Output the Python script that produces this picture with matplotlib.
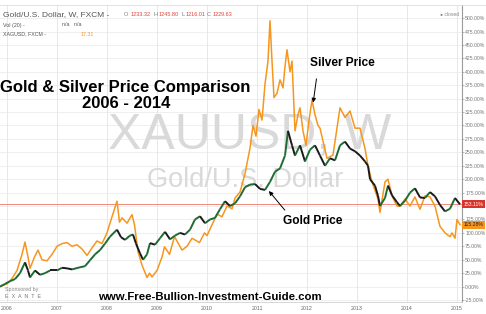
import numpy as np
import matplotlib
matplotlib.use("Agg")
import matplotlib.pyplot as plt
from matplotlib.collections import LineCollection

# ---------------- data (percent change since start) ----------------
gold_t = [2005.86, 2005.96, 2006.06, 2006.16, 2006.26, 2006.36, 2006.42, 2006.46, 2006.56, 2006.66,
          2006.76, 2006.86, 2007.0, 2007.1, 2007.2, 2007.3, 2007.46, 2007.56, 2007.66, 2007.76,
          2007.86, 2007.96, 2008.06, 2008.2, 2008.28, 2008.36, 2008.46, 2008.52, 2008.58, 2008.66,
          2008.72, 2008.8, 2008.86, 2008.96, 2009.06, 2009.16, 2009.26, 2009.36, 2009.46, 2009.56,
          2009.66, 2009.76, 2009.86, 2009.96, 2010.06, 2010.16, 2010.26, 2010.36, 2010.46, 2010.56,
          2010.66, 2010.76, 2010.86, 2010.96, 2011.06, 2011.16, 2011.26, 2011.36, 2011.46, 2011.56,
          2011.62, 2011.7, 2011.76, 2011.86, 2011.96, 2012.06, 2012.16, 2012.26, 2012.36, 2012.46,
          2012.56, 2012.66, 2012.76, 2012.86, 2012.96, 2013.06, 2013.16, 2013.22, 2013.26, 2013.36,
          2013.42, 2013.46, 2013.56, 2013.62, 2013.7, 2013.8, 2013.86, 2013.96, 2014.06, 2014.16,
          2014.26, 2014.36, 2014.46, 2014.56, 2014.66, 2014.76, 2014.86, 2014.96, 2015.06]
gold_v = [0, 5, 10, 14, 25, 45, 30, 17, 30, 22,
          25, 30, 30, 35, 34, 32, 36, 38, 49, 60,
          68, 80, 93, 106, 92, 87, 95, 97, 80, 62,
          50, 60, 81, 78, 90, 102, 88, 95, 100, 97,
          106, 125, 131, 118, 125, 128, 144, 159, 150, 155,
          168, 185, 190, 191, 182, 180, 195, 214, 220, 244,
          290, 263, 244, 263, 233, 255, 263, 244, 225, 239,
          235, 263, 270, 257, 252, 244, 233, 225, 200, 188,
          169, 150, 165, 188, 170, 157, 150, 160, 175, 183,
          166, 165, 176, 168, 152, 140, 145, 165, 153.11]

silver_t = [2005.86, 2006.0, 2006.1, 2006.2, 2006.3, 2006.36, 2006.42, 2006.46, 2006.55, 2006.62,
            2006.7, 2006.8, 2006.9, 2007.0, 2007.1, 2007.2, 2007.3, 2007.4, 2007.5, 2007.6,
            2007.7, 2007.8, 2007.9, 2008.0, 2008.1, 2008.2, 2008.25, 2008.3, 2008.4, 2008.5,
            2008.55, 2008.62, 2008.7, 2008.8, 2008.85, 2008.9, 2009.0, 2009.1, 2009.15, 2009.25,
            2009.35, 2009.5, 2009.6, 2009.7, 2009.85, 2009.95, 2010.0, 2010.1, 2010.2, 2010.3,
            2010.4, 2010.5, 2010.56, 2010.66, 2010.76, 2010.86, 2010.92, 2010.98, 2011.04, 2011.1,
            2011.16, 2011.22, 2011.26, 2011.3, 2011.34, 2011.4, 2011.46, 2011.52, 2011.56, 2011.6,
            2011.66, 2011.7, 2011.76, 2011.82, 2011.86, 2011.92, 2011.98, 2012.04, 2012.1, 2012.16,
            2012.22, 2012.26, 2012.4, 2012.52, 2012.66, 2012.76, 2012.86, 2012.96, 2013.06, 2013.16,
            2013.22, 2013.3, 2013.42, 2013.46, 2013.56, 2013.62, 2013.7, 2013.8, 2013.86, 2013.96,
            2014.06, 2014.16, 2014.26, 2014.36, 2014.46, 2014.56, 2014.66, 2014.76, 2014.86, 2014.9,
            2014.96, 2015.0, 2015.06]
silver_v = [0, 5, 15, 30, 60, 83, 55, 34, 55, 68,
            50, 48, 60, 75, 80, 82, 75, 78, 70, 58,
            72, 85, 80, 100, 130, 159, 120, 128, 118, 134,
            115, 65, 40, 17, 25, 18, 30, 55, 74, 60,
            93, 68, 75, 90, 82, 100, 95, 115, 135, 130,
            150, 145, 165, 176, 210, 258, 300, 280, 330, 310,
            377, 420, 495, 420, 352, 360, 385, 370, 410, 441,
            400, 420, 290, 320, 333, 290, 263, 310, 347, 320,
            300, 295, 239, 245, 333, 315, 327, 295, 295, 257,
            225, 195, 163, 138, 195, 200, 169, 150, 150, 163,
            150, 167, 144, 169, 167, 150, 112, 100, 93, 100,
            90, 125, 115.28]

year_ticks = [2006, 2007, 2008, 2009, 2010, 2011, 2012, 2013, 2014, 2015]
pct_ticks = list(range(-25, 501, 25))

gold_last = 153.11
silver_last = 115.28

# ---------------- figure ----------------
W, H = 486, 314
fig = plt.figure(figsize=(W / 100, H / 100), dpi=100)
fig.patch.set_facecolor("white")
plt.rcParams['font.family'] = ['Liberation Sans', 'DejaVu Sans']

ax = fig.add_axes([0, 12 / H, 462 / W, 297 / H])
ax.set_facecolor("white")

# px mapping: year = 2006 + (x-7)/50
x0 = 2006 + (0 - 7) / 50
x1 = 2006 + (462 - 7) / 50
ax.set_xlim(x0, x1)
ax.set_ylim(-28.7, 524.4)

# grid
for yv in pct_ticks:
    ax.axhline(yv, color="#ececec", lw=0.6, zorder=0)
for xv in year_ticks:
    ax.axvline(xv, color="#e4e4e4", lw=0.6, zorder=0)

# watermark
ax.text(0.54, 0.556, "XAUUSD, W", transform=ax.transAxes, fontsize=36,
        color="#d9d9d9", ha="center", va="center", zorder=1)
ax.text(0.53, 0.41, "Gold/U.S. Dollar", transform=ax.transAxes, fontsize=19.5,
        color="#d9d9d9", ha="center", va="center", zorder=1)

# last price line
ax.axhline(gold_last, color="#ef8a80", lw=0.7, zorder=1)

# silver
ax.plot(silver_t, silver_v, color="#f7961e", lw=1.1, zorder=3)

# gold as up/down coloured segments
gt = np.array(gold_t)
gv = np.array(gold_v)
pts = np.column_stack([gt, gv]).reshape(-1, 1, 2)
segs = np.concatenate([pts[:-1], pts[1:]], axis=1)
cols = ["#1e6b34" if b > a else "#1a1a1a" for a, b in zip(gv[:-1], gv[1:])]
ax.add_collection(LineCollection(segs, colors=cols, linewidths=1.4, zorder=4))

# axes styling
for s in ["top", "left", "bottom"]:
    ax.spines[s].set_visible(False)
ax.spines["right"].set_color("#9a9a9a")
ax.spines["right"].set_linewidth(0.8)
ax.yaxis.tick_right()
ax.set_yticks(pct_ticks)
ax.set_yticklabels([f"{v:.2f}%" for v in pct_ticks], fontsize=3.7, color="#777777")
ax.tick_params(axis="y", length=1.5, width=0.5, color="#9a9a9a", pad=0.8)
ax.set_xticks(year_ticks)
ax.set_xticklabels([str(y) for y in year_ticks], fontsize=3.8, color="#666666")
ax.tick_params(axis="x", length=0, pad=3)

# bottom axis line
fig.add_artist(plt.Line2D([0, 462 / W], [12 / H, 12 / H], color="#cfcfcf", lw=0.6))
fig.add_artist(plt.Line2D([0, 1], [1 - 5 / H, 1 - 5 / H], color="#dddddd", lw=0.6))

# price tags on right axis
ax.text(1.004, gold_last, f"{gold_last:.2f}%", transform=ax.get_yaxis_transform(),
        fontsize=3.7, color="white", va="center", ha="left",
        bbox=dict(boxstyle="square,pad=0.3", fc="#d9342b", ec="none"), zorder=6, clip_on=False)
ax.text(1.004, silver_last, f"{silver_last:.2f}%", transform=ax.get_yaxis_transform(),
        fontsize=3.7, color="#222222", va="center", ha="left",
        bbox=dict(boxstyle="square,pad=0.3", fc="#f7961e", ec="none"), zorder=6, clip_on=False)

# header texts (figure pixel coords helpers)
def fx(px):
    return px / W

def fy(py):
    return 1 - py / H

fig.text(fx(3), fy(15), "Gold/U.S. Dollar, W, FXCM -", fontsize=6.0, color="#555555", va="center")
hdr = [(124, "O", "#777777"), (131, "1233.32", "#e0443a"), (153, "H", "#777777"),
       (159, "1245.80", "#e0443a"), (181, "L", "#777777"), (186, "1216.01", "#e0443a"),
       (207, "C", "#777777"), (213, "1229.63", "#e0443a")]
for px_, s_, c_ in hdr:
    fig.text(fx(px_), fy(15), s_, fontsize=4.0, color=c_, va="center")
fig.text(fx(3), fy(25), "Vol (20) -", fontsize=3.8, color="#555555", va="center")
fig.text(fx(62), fy(25), "n/a   n/a", fontsize=3.8, color="#555555", va="center")
fig.text(fx(3), fy(34), "XAGUSD, FXCM -", fontsize=3.8, color="#555555", va="center")
fig.text(fx(81), fy(34), "17.31", fontsize=3.8, color="#f7961e", va="center")
fig.text(fx(440), fy(14), "\u25cf closed", fontsize=3.6, color="#888888", va="center")

# titles
fig.text(fx(125), fy(87), "Gold & Silver Price Comparison", fontsize=12.0, fontweight="bold",
         color="black", ha="center", va="center")
fig.text(fx(126), fy(103), "2006 - 2014", fontsize=12.0, fontweight="bold",
         color="black", ha="center", va="center")

# annotations
ax.annotate("Silver Price", xy=(2012.12, 340), xytext=(2012.06, 416),
            fontsize=8.6, fontweight="bold", color="black", ha="left", va="center",
            arrowprops=dict(arrowstyle="-|>", color="black", lw=0.7, mutation_scale=6,
                            shrinkA=5, shrinkB=1, relpos=(0.12, 0.0)))
ax.annotate("Gold Price", xy=(2011.22, 180), xytext=(2011.52, 122),
            fontsize=8.6, fontweight="bold", color="black", ha="left", va="center",
            arrowprops=dict(arrowstyle="-|>", color="black", lw=0.7, mutation_scale=6,
                            shrinkA=2, shrinkB=1, relpos=(0.1, 1.0)))

# footer
fig.text(fx(5), fy(289), "Sponsored by", fontsize=3.9, color="#888888", va="center")
fig.text(fx(5), fy(296), "E  X  A  N  T  E", fontsize=3.9, color="#777777", va="center")
fig.text(fx(210), fy(297), "www.Free-Bullion-Investment-Guide.com", fontsize=8.2,
         fontweight="bold", color="black", ha="center", va="center")

fig.savefig("out.png", dpi=100, facecolor="white")
